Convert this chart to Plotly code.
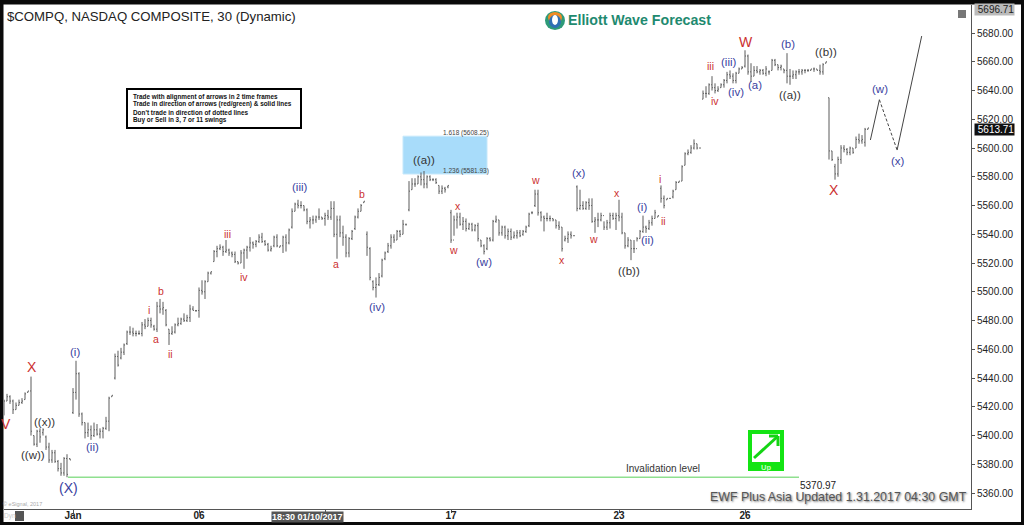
import plotly.graph_objects as go

highs = [
5425,5429,5428,5425,5423,5425,5426,5430,5431,5441,
5400,5404,5405,5405,5400,5395,5390,5390,5383,5381,
5385,5387,5384,5433,5452,5444,5416,5409,5409,5407,
5409,5408,5405,5406,5413,5427,5428,5457,5459,5461,
5464,5473,5476,5475,5473,5473,5479,5481,5482,5482,
5477,5493,5495,5493,5488,5474,5476,5478,5482,5482,
5485,5484,5491,5490,5487,5503,5508,5508,5514,5514,
5529,5532,5533,5532,5536,5530,5528,5528,5521,5529,
5530,5532,5538,5535,5536,5540,5541,5536,5534,5532,
5539,5540,5532,5539,5540,5544,5558,5562,5564,5563,
5560,5558,5552,5553,5553,5558,5552,5555,5557,5563,
5563,5553,5553,5546,5540,5538,5543,5553,5558,5561,
5563,5542,5531,5508,5510,5513,5523,5528,5534,5540,
5540,5543,5543,5550,5547,5577,5579,5579,5581,5583,
5584,5581,5581,5579,5579,5574,5574,5573,5574,5557,
5553,5555,5555,5552,5551,5548,5548,5547,5548,5536,
5533,5538,5538,5550,5553,5550,5546,5546,5544,5544,
5542,5543,5543,5543,5546,5555,5556,5571,5571,5556,
5553,5555,5553,5551,5550,5549,5545,5539,5542,5542,
5539,5574,5571,5563,5563,5565,5565,5552,5555,5555,
5549,5550,5555,5555,5555,5564,5555,5541,5538,5536,
5536,5538,5543,5553,5546,5550,5553,5557,5553,5574,
5567,5565,5565,5571,5577,5577,5588,5597,5599,5602,
5606,5603,5600,5640,5643,5645,5650,5645,5643,5645,
5648,5653,5654,5652,5653,5656,5657,5668,5665,5659,
5657,5657,5655,5655,5657,5654,5662,5662,5658,5658,
5655,5666,5655,5654,5654,5655,5655,5655,5655,5655,
5656,5655,5658,5659,5660,5635,5598,5589,5594,5602,
5602,5600,5601,5600,5608,5610,5609,5614,5614]

lows = [
5414,5424,5422,5415,5418,5421,5422,5425,5430,5400,
5393,5392,5395,5400,5390,5381,5381,5381,5375,5372,
5372,5371,5383,5415,5425,5413,5407,5398,5399,5397,
5399,5400,5398,5398,5404,5403,5427,5439,5448,5453,
5456,5463,5470,5469,5469,5470,5469,5474,5476,5475,
5473,5472,5485,5484,5476,5463,5470,5471,5476,5477,
5479,5479,5479,5487,5486,5482,5498,5495,5507,5512,
5521,5524,5529,5525,5527,5525,5524,5520,5519,5520,
5516,5523,5528,5530,5531,5534,5534,5532,5528,5528,
5531,5531,5531,5527,5528,5533,5544,5556,5558,5558,
5556,5547,5544,5547,5548,5550,5550,5546,5550,5550,
5538,5523,5538,5532,5524,5524,5536,5543,5551,5556,
5562,5525,5508,5501,5496,5504,5510,5522,5527,5530,
5534,5536,5538,5540,5546,5556,5571,5573,5575,5574,
5572,5572,5577,5577,5575,5568,5568,5569,5572,5534,
5539,5544,5546,5543,5542,5543,5542,5542,5535,5531,
5526,5529,5535,5535,5548,5539,5539,5537,5536,5536,
5537,5537,5538,5539,5541,5545,5554,5559,5553,5549,
5542,5549,5549,5549,5544,5543,5528,5535,5534,5537,
5539,5556,5557,5557,5557,5557,5548,5541,5545,5549,
5543,5543,5544,5550,5543,5549,5540,5530,5531,5522,
5527,5535,5537,5541,5541,5543,5546,5551,5552,5562,
5558,5564,5565,5565,5571,5576,5577,5588,5595,5596,
5599,5599,5600,5634,5635,5637,5640,5638,5639,5642,
5642,5645,5648,5645,5645,5652,5655,5656,5651,5646,
5650,5652,5651,5651,5650,5651,5654,5657,5654,5654,
5652,5645,5644,5648,5648,5651,5651,5652,5653,5654,
5653,5654,5651,5651,5659,5592,5591,5578,5580,5589,
5597,5595,5595,5596,5600,5603,5603,5601,5613]

closes = [
5424,5427,5424,5418,5421,5423,5424,5429,5431,5403,
5394,5403,5399,5404,5392,5383,5388,5382,5377,5374,
5384,5373,5383,5430,5443,5415,5409,5402,5404,5400,
5404,5401,5403,5405,5410,5426,5428,5455,5449,5458,
5463,5472,5472,5471,5471,5471,5477,5476,5480,5477,
5474,5490,5488,5489,5477,5471,5472,5477,5478,5481,
5480,5482,5488,5487,5487,5501,5500,5507,5513,5514,
5528,5530,5531,5528,5529,5527,5526,5521,5520,5527,
5529,5531,5534,5533,5535,5538,5535,5533,5529,5530,
5538,5532,5532,5538,5534,5543,5556,5561,5560,5560,
5557,5549,5550,5550,5552,5552,5551,5553,5552,5558,
5540,5550,5541,5538,5527,5537,5542,5552,5556,5560,
5563,5531,5510,5503,5505,5510,5522,5527,5532,5538,
5536,5542,5540,5547,5547,5570,5575,5575,5580,5578,
5575,5580,5578,5578,5576,5570,5572,5571,5574,5536,
5550,5552,5547,5549,5544,5547,5543,5546,5537,5532,
5528,5537,5536,5549,5550,5541,5545,5539,5542,5538,
5539,5541,5539,5542,5545,5554,5555,5568,5555,5552,
5551,5551,5551,5550,5546,5545,5530,5537,5540,5539,
5539,5558,5560,5558,5562,5560,5549,5550,5550,5553,
5545,5548,5553,5551,5553,5552,5541,5532,5536,5530,
5530,5537,5542,5545,5544,5548,5551,5555,5553,5565,
5560,5565,5565,5570,5576,5577,5587,5596,5597,5600,
5603,5600,5600,5638,5638,5644,5642,5640,5641,5644,
5647,5651,5650,5647,5652,5655,5656,5664,5653,5650,
5654,5653,5654,5652,5655,5653,5661,5658,5656,5657,
5654,5650,5650,5651,5653,5653,5654,5654,5654,5655,
5655,5654,5653,5658,5660,5598,5592,5582,5592,5600,
5599,5597,5600,5597,5606,5605,5606,5613,5614]

opens = [
5416,5424,5427,5424,5418,5421,5423,5425,5430,5431,
5400,5394,5403,5402,5399,5392,5383,5388,5382,5377,
5374,5384,5384,5416,5430,5443,5415,5409,5402,5404,
5400,5404,5401,5403,5405,5410,5427,5440,5455,5454,
5458,5464,5472,5472,5471,5471,5471,5477,5476,5480,
5476,5474,5490,5488,5487,5474,5471,5472,5477,5478,
5481,5480,5482,5488,5487,5487,5501,5500,5507,5513,
5521,5528,5530,5531,5528,5529,5527,5526,5521,5520,
5527,5529,5531,5534,5533,5535,5538,5535,5533,5529,
5532,5538,5531,5532,5538,5534,5545,5556,5561,5560,
5560,5557,5549,5550,5550,5552,5552,5551,5553,5552,
5558,5540,5550,5541,5538,5527,5537,5544,5552,5556,
5562,5540,5530,5507,5503,5505,5511,5523,5528,5532,
5538,5536,5542,5540,5547,5557,5571,5575,5575,5580,
5578,5575,5580,5578,5578,5574,5570,5572,5573,5555,
5536,5550,5552,5547,5549,5544,5547,5543,5546,5536,
5532,5530,5537,5536,5549,5550,5541,5545,5539,5542,
5538,5539,5541,5540,5542,5546,5555,5560,5568,5555,
5552,5551,5551,5551,5550,5546,5545,5536,5537,5540,
5539,5573,5558,5560,5558,5562,5560,5549,5550,5550,
5553,5545,5548,5553,5551,5553,5552,5541,5532,5536,
5530,5530,5537,5542,5545,5544,5548,5551,5552,5572,
5565,5564,5565,5566,5571,5576,5577,5588,5596,5597,
5600,5603,5600,5634,5638,5638,5644,5642,5640,5642,
5644,5647,5651,5650,5647,5652,5655,5657,5664,5653,
5650,5654,5653,5654,5652,5653,5654,5661,5658,5656,
5655,5654,5650,5650,5651,5653,5653,5654,5654,5654,
5655,5655,5654,5653,5659,5635,5598,5587,5582,5592,
5600,5599,5597,5600,5600,5606,5605,5604,5613]

bar_index = list(range(len(highs)))

y_ticks = [5360, 5380, 5400, 5420, 5440, 5460, 5480, 5500, 5520, 5540, 5560, 5580, 5600, 5620, 5640, 5660, 5680]
x_ticks = [23, 65, 107, 149, 205, 247]
x_tick_labels = ["<b>Jan</b>", "<b>06</b>", "", "<b>17</b>", "<b>23</b>", "<b>26</b>"]

path_x = [288.8, 291.8, 297.7, 305.9]
path_y = [5605.6, 5633.6, 5598.6, 5677.9]

invalidation = 5370.97
fib_high = 5608.25
fib_low = 5581.93
last_price = 5613.71
top_price = 5696.71

L, R, T, B = 4, 971, 5, 509
def xp(px): return (px - L) / (R - L)
def yp(py): return 1 - (py - T) / (B - T)

RED, BLUE, BLK = "#cc3030", "#3a3f9f", "#333333"
wave_labels = [
    ("V", 6, 424, RED, 14), ("X", 32, 367, RED, 14), ("i", 149, 310, RED, 10.5),
    ("b", 161, 291, RED, 10.5), ("a", 156, 339, RED, 10.5), ("ii", 170, 354, RED, 10.5),
    ("iii", 227, 234, RED, 10.5), ("iv", 244, 277, RED, 10.5), ("a", 336, 264, RED, 10.5),
    ("b", 362, 194, RED, 10.5), ("x", 458, 206, RED, 10.5), ("w", 453, 250, RED, 10.5),
    ("w", 535, 180, RED, 10.5), ("x", 562, 260, RED, 10.5), ("w", 593, 239, RED, 10.5),
    ("x", 617, 193, RED, 10.5), ("i", 660, 179, RED, 10.5), ("ii", 663, 221, RED, 10.5),
    ("iii", 710, 66, RED, 10.5), ("iv", 715, 101, RED, 10.5), ("W", 746, 42, RED, 14),
    ("X", 834, 190, RED, 14),
    ("(i)", 75, 352, BLUE, 11.5), ("(ii)", 92, 447, BLUE, 11.5), ("(X)", 68, 488, BLUE, 14),
    ("(iii)", 299, 187, BLUE, 11.5), ("(iv)", 377, 307, BLUE, 11.5), ("(w)", 484, 262, BLUE, 11.5),
    ("(x)", 579, 173, BLUE, 11.5), ("(i)", 642, 207, BLUE, 11.5), ("(ii)", 647, 240, BLUE, 11.5),
    ("(iii)", 728, 62, BLUE, 11.5), ("(iv)", 736, 92, BLUE, 11.5), ("(a)", 755, 85, BLUE, 11.5),
    ("(b)", 788, 44, BLUE, 11.5), ("(w)", 880, 89, BLUE, 11.5), ("(x)", 898, 161, BLUE, 11.5),
    ("((x))", 44, 422, BLK, 11.5), ("((w))", 33, 455, BLK, 11.5), ("((a))", 424, 160, BLK, 11.5),
    ("((b))", 629, 271, BLK, 11.5), ("((a))", 790, 95, BLK, 11.5), ("((b))", 826, 52, BLK, 11.5),
]
note_lines = [
    "Trade with alignment of arrows in 2 time frames",
    "Trade in direction of arrows (red/green) & solid lines",
    "Don't trade in direction of dotted lines",
    "Buy or Sell in 3, 7 or 11 swings",
]

fig = go.Figure()
fig.add_trace(go.Ohlc(
    x=bar_index, open=opens, high=highs, low=lows, close=closes, tickwidth=0.3,
    increasing=dict(line=dict(color="#5a5a5a", width=1)),
    decreasing=dict(line=dict(color="#5a5a5a", width=1)),
    showlegend=False, hoverinfo="skip"))
fig.add_trace(go.Scatter(x=[21.3, 265], y=[invalidation, invalidation], mode="lines",
                         line=dict(color="#8fe08f", width=1.3), showlegend=False, hoverinfo="skip"))
line_style = dict(color="#444444", width=1)
fig.add_trace(go.Scatter(x=path_x[:2], y=path_y[:2], mode="lines", line=line_style, showlegend=False, hoverinfo="skip"))
fig.add_trace(go.Scatter(x=path_x[1:3], y=path_y[1:3], mode="lines", line=dict(color="#444444", width=1, dash="3px,2px"), showlegend=False, hoverinfo="skip"))
fig.add_trace(go.Scatter(x=path_x[2:], y=path_y[2:], mode="lines", line=line_style, showlegend=False, hoverinfo="skip"))

FONT = "Liberation Sans, Arial, sans-serif"
ann = []
def text(t, px, py, color="#222222", size=10, anchor="center", bg=None, family=FONT, shadow=None):
    f = dict(color=color, size=size, family=family)
    if shadow:
        f["shadow"] = shadow
    a = dict(text=t, x=xp(px), y=yp(py), xref="paper", yref="paper", showarrow=False,
             xanchor=anchor, yanchor="middle", font=f, borderpad=0)
    if bg:
        a["bgcolor"] = bg
    ann.append(a)

for t, px, py, c, s in wave_labels:
    text(t, px, py, c, s)
text("$COMPQ, NASDAQ COMPOSITE, 30 (Dynamic)", 6, 16, "#222222", 13.2, "left")
for i, line in enumerate(note_lines):
    text(f"<b>{line}</b>", 132, 96.5 + 7.9 * i, "#111111", 6.4, "left")
text("1.618 (5608.25)", 466, 133, "#444444", 6.5)
text("1.236 (5581.93)", 466, 171, "#444444", 6.5)
text("Invalidation level", 663, 468, "#333333", 10)
text("5370.97", 818, 485, "#222222", 10)
text("EWF Plus Asia Updated 1.31.2017 04:30 GMT", 968, 497, "#555555", 12.4, "right",
     shadow="1px 1px 2px #777777")
text("<b>Elliott Wave Forecast</b>", 567, 20, "#1f8a70", 14.2, "left")
text("<b>Up</b>", 766, 467, "#c8ffc8", 7.5)
text("<b>18:30 01/10/2017</b>", 307, 516.5, "#ffffff", 9, "center", bg="#555555")
text("© eSignal, 2017", 22, 504, "#aaaaaa", 5.5)
text("Dyn", 10, 516, "#cccccc", 6.5)
text(" 5613.71", 974, 129, "#ffffff", 10, "left", bg="#111111")
text(" 5696.71", 974, 10, "#222222", 10, "left", bg="#bbbbbb")

def rect(x0, y0, x1, y1, fill=None, line=None, w=0):
    return dict(type="rect", xref="paper", yref="paper", x0=xp(x0), x1=xp(x1), y0=yp(y0), y1=yp(y1),
                fillcolor=fill or "rgba(0,0,0,0)", line=dict(color=line or "rgba(0,0,0,0)", width=w), layer="above")
def seg(x0, y0, x1, y1, color, w):
    return dict(type="line", xref="paper", yref="paper", x0=xp(x0), x1=xp(x1), y0=yp(y0), y1=yp(y1),
                line=dict(color=color, width=w), layer="above")
def circ(x0, y0, x1, y1, fill):
    return dict(type="circle", xref="paper", yref="paper", x0=xp(x0), x1=xp(x1), y0=yp(y0), y1=yp(y1),
                fillcolor=fill, line=dict(width=0), layer="above")

shapes = [
    dict(type="rect", xref="x", yref="y", x0=133, x1=161, y0=fib_low, y1=fib_high,
         fillcolor="#a8dcfa", line=dict(color="#c5e8fb", width=1), layer="below"),
    rect(127, 89, 301, 128, "#ffffff", "#000000", 2),
    rect(748, 430, 784, 471, "#14e414"),
    rect(752, 434, 780, 462, "#ffffff"),
    seg(754, 458, 777, 437, "#14d414", 3),
    seg(769, 436, 778, 436, "#14d414", 3),
    seg(778, 436, 778, 446, "#14d414", 3),
    circ(545, 11, 565, 30, "#2d9a78"),
    circ(548, 12, 562, 23, "#f08a24"),
    circ(549, 15, 561, 28, "#2f6fb5"),
    circ(552, 15, 558, 25, "#ffffff"),
    rect(958, 10, 966, 18, "#777777"),
    rect(15, 511, 24, 521, "#555555"),
    rect(0, 0, 1024, 4.5, "#0a0a0a"),
    rect(0, 522, 1024, 525, "#0a0a0a"),
    rect(0, 0, 3.5, 525, "#0a0a0a"),
    rect(1021, 0, 1024, 525, "#0a0a0a"),
]

fig.update_layout(
    width=1024, height=525, autosize=False,
    margin=dict(l=L, r=1024 - R, t=T, b=525 - B, pad=0),
    paper_bgcolor="#ffffff", plot_bgcolor="#ffffff",
    showlegend=False, annotations=ann, shapes=shapes,
    font=dict(family=FONT, color="#222222"),
    xaxis=dict(range=[0, (R - L) / 3], rangeslider=dict(visible=False), showgrid=False, zeroline=False,
               automargin=False, ticklabelstandoff=-6,
               tickmode="array", tickvals=x_ticks, ticktext=x_tick_labels, ticks="outside", ticklen=3,
               tickcolor="#555555", showline=True, linecolor="#555555", linewidth=1,
               tickfont=dict(size=10, color="#222222", family=FONT)),
    yaxis=dict(range=[5348.9, 5699.5], side="right", showgrid=False, zeroline=False,
               automargin=False,
               tickmode="array", tickvals=y_ticks, tickformat=".2f", ticks="outside", ticklen=3,
               tickcolor="#555555", showline=True, linecolor="#555555", linewidth=1,
               tickfont=dict(size=10, color="#222222", family=FONT)),
)

fig.write_html("out.html", config=dict(displayModeBar=False),
               post_script="document.body.style.margin='0';document.body.style.overflow='hidden';")
